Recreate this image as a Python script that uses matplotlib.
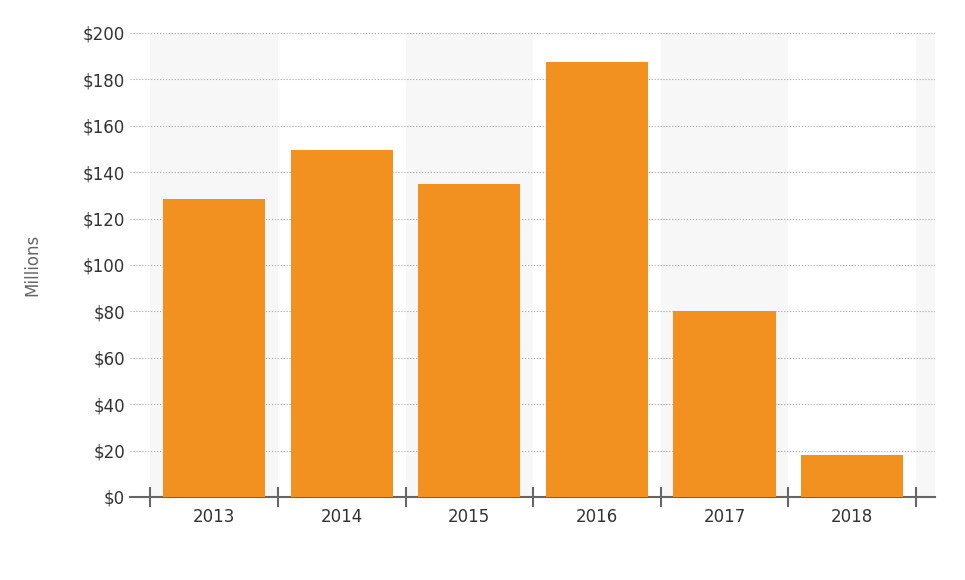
import matplotlib
matplotlib.use("Agg")
import matplotlib.pyplot as plt
from matplotlib.ticker import FuncFormatter

years = ["2013", "2014", "2015", "2016", "2017", "2018"]
values = [128.4, 149.6, 135.0, 187.5, 80.2, 18.2]
yticks = [0, 20, 40, 60, 80, 100, 120, 140, 160, 180, 200]

fig = plt.figure(figsize=(9.65, 5.8), dpi=100)
ax = fig.add_axes([130/965, 1-497/580, (935-130)/965, (497-33)/580])
x = list(range(len(years)))
for i in range(0, len(years) + 1, 2):
    ax.axvspan(i - 0.5, i + 0.5, color="#f7f7f7", zorder=0, lw=0)
ax.bar(x, values, width=0.8, color="#F29020", zorder=3)
ax.set_xlim(-0.66, 5.65)
ax.set_ylim(0, 200)
ax.set_yticks(yticks)
ax.yaxis.set_major_formatter(FuncFormatter(lambda v, p: f"${v:.0f}"))
ax.grid(axis="y", color="#aaaaaa", linestyle=":", linewidth=0.8, zorder=1)
ax.set_xticks(x)
ax.set_xticklabels(years)
ax.set_xticks([i - 0.5 for i in range(len(years) + 1)], minor=True)
ax.tick_params(axis="x", which="major", length=0, labelsize=12, colors="#333333", pad=8)
ax.tick_params(axis="x", which="minor", length=14, width=1.5, color="#666666", direction="inout")
ax.tick_params(axis="y", length=0, labelsize=12, colors="#333333")
for s in ["top", "right", "left"]:
    ax.spines[s].set_visible(False)
ax.spines["bottom"].set_color("#666666")
ax.spines["bottom"].set_linewidth(1.5)
ax.set_ylabel("Millions", fontsize=12, color="#666666", labelpad=30)
fig.savefig("out.png", dpi=100)
